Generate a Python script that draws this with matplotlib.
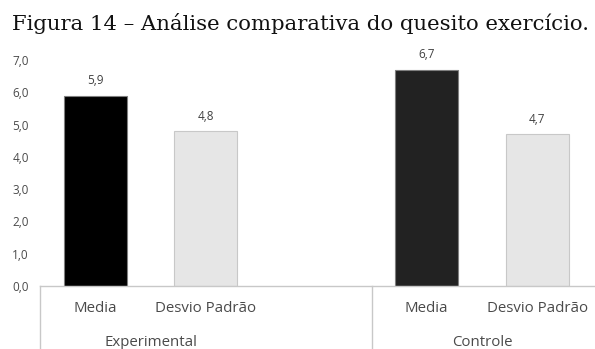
import matplotlib
matplotlib.use("Agg")
import matplotlib.pyplot as plt
from matplotlib.transforms import blended_transform_factory

# Data
groups = ["Experimental", "Controle"]
subcats = ["Media", "Desvio Padrão"]
experimental = [5.9, 4.8]
controle = [6.7, 4.7]
yticks = [0, 1, 2, 3, 4, 5, 6, 7]
title = "Figura 14 – Análise comparativa do quesito exercício."

W, H, DPI = 595, 349, 100
fig = plt.figure(figsize=(W / DPI, H / DPI), dpi=DPI)
ax = fig.add_axes([40 / W, 1 - 286 / H, (592.5 - 40) / W, (286 - 60) / H])

sans = ["Open Sans", "DejaVu Sans"]
txt_color = "#4a4a4a"

pos_exp = [0, 1]
pos_ctl = [3, 4]
media_colors = ["#000000", "#222222"]
dp_color = "#e6e6e6"
width = 0.57

for g, (pos, vals) in enumerate([(pos_exp, experimental), (pos_ctl, controle)]):
    cols = [media_colors[g], dp_color]
    edges = ["#7f7f7f", "#c8c8c8"]
    bars = ax.bar(pos, vals, width=width, color=cols, edgecolor=edges, linewidth=0.8)
    for b, v in zip(bars, vals):
        ax.annotate(f"{v:.1f}".replace(".", ","), (b.get_x() + b.get_width() / 2, v),
                    xytext=(0, 6), textcoords="offset points", ha="center", va="bottom",
                    fontsize=8.5, color="#404040", family=sans)

ax.set_xlim(-0.5, 4.5)
ax.set_ylim(0, 7)
ax.set_yticks(yticks)
ax.set_yticklabels([f"{t:.1f}".replace(".", ",") for t in yticks], fontsize=8.5,
                   color=txt_color, family=sans)
ax.tick_params(axis="y", length=0, pad=8)

ax.set_xticks(pos_exp + pos_ctl)
ax.set_xticklabels(subcats + subcats, fontsize=10.8, color=txt_color, family=sans)
ax.tick_params(axis="x", length=0, pad=11)

for s in ["left", "top", "right"]:
    ax.spines[s].set_visible(False)
ax.spines["bottom"].set_color("#c8c8c8")
ax.spines["bottom"].set_linewidth(1.0)
ax.spines["bottom"].set_bounds(-0.5, 4.6)

trans = blended_transform_factory(ax.transData, ax.transAxes)
for xs in [-0.5, 2.5]:
    ax.plot([xs, xs], [0, -0.3], transform=trans, color="#c8c8c8", lw=1.0, clip_on=False)

for label, pos in zip(groups, [pos_exp, pos_ctl]):
    ax.text(sum(pos) / len(pos), -(342 - 286) / 226, label, transform=trans,
            ha="center", va="center", fontsize=10.8, color=txt_color, family=sans)

fig.text(12 / W, 1 - 30 / H, title, ha="left", va="baseline", fontsize=15.3,
         family=["DejaVu Serif"], color="#111111")

fig.savefig("out.png", dpi=DPI)
